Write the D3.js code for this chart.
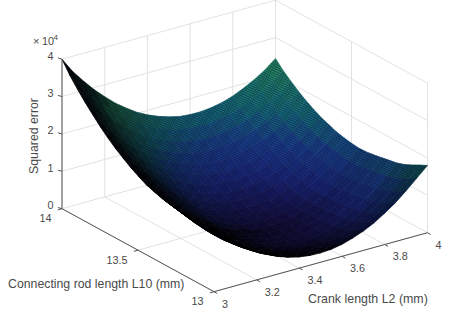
<!DOCTYPE html>
<html><head><meta charset="utf-8">
<script src="https://cdnjs.cloudflare.com/ajax/libs/d3/7.8.5/d3.min.js"></script>
<style>html,body{margin:0;padding:0;background:#fff}svg{display:block}text{font-family:"Liberation Sans",Arial,sans-serif;fill:#4a4a4a}</style>
</head><body><svg id="c" width="458" height="323"></svg>
<script>
const crankLength=[3,3.05,3.1,3.15,3.2,3.25,3.3,3.35,3.4,3.45,3.5,3.55,3.6,3.65,3.7,3.75,3.8,3.85,3.9,3.95,4];
const rodLength=[14,13.95,13.9,13.85,13.8,13.75,13.7,13.65,13.6,13.55,13.5,13.45,13.4,13.35,13.3,13.25,13.2,13.15,13.1,13.05,13];
// Squared error (x 10^4), one row per rod length
const squaredError=[
[4.00,3.59,3.26,2.95,2.68,2.43,2.22,2.03,1.88,1.76,1.67,1.60,1.57,1.57,1.60,1.66,1.75,1.88,2.03,2.21,2.44],
[3.69,3.32,2.99,2.69,2.42,2.18,1.97,1.79,1.64,1.52,1.43,1.38,1.35,1.35,1.39,1.45,1.55,1.67,1.83,2.02,2.23],
[3.43,3.07,2.74,2.44,2.18,1.94,1.74,1.56,1.42,1.30,1.22,1.17,1.14,1.15,1.19,1.26,1.36,1.49,1.65,1.84,2.06],
[3.19,2.84,2.52,2.22,1.96,1.73,1.52,1.35,1.21,1.10,1.02,.97,.95,.97,1.01,1.08,1.18,1.32,1.48,1.68,1.90],
[2.97,2.62,2.30,2.01,1.75,1.52,1.33,1.16,1.02,.92,.84,.80,.78,.80,.84,.92,1.03,1.16,1.33,1.53,1.76],
[2.76,2.42,2.10,1.82,1.56,1.34,1.14,.98,.85,.75,.67,.63,.62,.64,.69,.78,.89,1.03,1.20,1.41,1.64],
[2.57,2.23,1.92,1.64,1.39,1.17,.98,.82,.69,.59,.53,.49,.48,.51,.56,.65,.76,.91,1.09,1.30,1.53],
[2.40,2.06,1.75,1.48,1.23,1.02,.83,.68,.55,.46,.40,.37,.36,.39,.45,.54,.66,.81,.99,1.20,1.45],
[2.25,1.91,1.61,1.34,1.10,.88,.70,.55,.43,.34,.28,.26,.26,.29,.35,.45,.57,.72,.91,1.12,1.37],
[2.11,1.78,1.48,1.21,.98,.77,.59,.44,.33,.24,.19,.16,.17,.21,.27,.37,.50,.66,.85,1.07,1.32],
[1.99,1.66,1.37,1.10,.87,.67,.49,.35,.24,.16,.11,.09,.10,.14,.21,.31,.45,.61,.80,1.03,1.28],
[1.88,1.56,1.27,1.01,.78,.58,.41,.28,.17,.09,.05,.03,.05,.09,.17,.27,.41,.58,.77,1.00,1.26],
[1.81,1.49,1.20,.95,.72,.53,.36,.23,.13,.05,.01,.00,.02,.07,.15,.26,.40,.57,.77,1.01,1.27],
[1.77,1.45,1.17,.92,.70,.51,.35,.22,.12,.05,.01,.00,.02,.08,.16,.27,.42,.59,.80,1.04,1.30],
[1.72,1.41,1.13,.89,.67,.48,.33,.20,.11,.04,.01,.00,.03,.09,.17,.29,.44,.62,.83,1.07,1.34],
[1.68,1.37,1.10,.85,.64,.46,.31,.19,.09,.03,.00,.00,.04,.10,.19,.31,.47,.65,.86,1.11,1.38],
[1.63,1.33,1.06,.82,.61,.43,.29,.17,.08,.03,.00,.01,.04,.11,.20,.33,.49,.68,.89,1.14,1.42],
[1.62,1.32,1.05,.82,.62,.44,.30,.19,.10,.05,.03,.04,.08,.15,.25,.38,.54,.73,.96,1.21,1.49],
[1.64,1.34,1.08,.85,.65,.48,.34,.23,.15,.10,.09,.10,.14,.22,.32,.46,.62,.82,1.04,1.30,1.59],
[1.67,1.38,1.12,.89,.70,.53,.40,.29,.22,.17,.16,.18,.22,.30,.41,.55,.72,.92,1.15,1.41,1.70],
[1.72,1.43,1.18,.96,.76,.60,.47,.37,.30,.26,.25,.27,.32,.41,.52,.66,.84,1.04,1.28,1.54,1.80]];
const crankTicks=[3,3.2,3.4,3.6,3.8,4];
const rodTicks=[14,13.5,13];
const errorTicks=[0,1,2,3,4];
const colourStops=[0,.5,1,1.5,2.44,3,4];
const colourValues=["#2a2090","#3048e8","#2c6cf8","#22b0d0","#3ce098","#207060","#103030"];

const svg=d3.select("#c");
const ox=62, oy=208.7;
const xCrank=d3.scaleLinear().domain([3,4]).range([0,213.5]);
const yCrank=d3.scaleLinear().domain([3,4]).range([0,-59]);
const xRod=d3.scaleLinear().domain([14,13]).range([0,152]);
const yRod=d3.scaleLinear().domain([14,13]).range([0,83]);
const hErr=d3.scaleLinear().domain([0,4]).range([0,149.5]);
const P=(c,r,z)=>[ox+xCrank(c)+xRod(r), oy+yCrank(c)+yRod(r)-hErr(z)];
const line=d3.line();
const gridCol="#e2e2e2";
const seg=(a,b,col,w)=>svg.append("path").attr("d",line([a,b])).attr("stroke",col).attr("stroke-width",w).attr("fill","none");

errorTicks.slice(1).forEach(z=>{seg(P(3,14,z),P(4,14,z),gridCol,1);seg(P(4,14,z),P(4,13,z),gridCol,1);});
crankTicks.forEach(c=>{seg(P(c,14,0),P(c,14,4),gridCol,1);seg(P(c,14,0),P(c,13,0),gridCol,1);});
rodTicks.forEach(r=>{seg(P(4,r,0),P(4,r,4),gridCol,1);seg(P(3,r,0),P(4,r,0),gridCol,1);});

// surface: the source's fine edge lines are a texture; their coverage darkens each facet
const meshPerFacet=3.5, lineWidth=.82;
const defs=svg.append("defs");
const dc=[xCrank(3.0143)-xCrank(3),yCrank(3.0143)-yCrank(3)];
const dr=[xRod(13.9857)-xRod(14),yRod(13.9857)-yRod(14)];
const pat=defs.append("pattern").attr("id","mesh").attr("patternUnits","userSpaceOnUse").attr("width",10).attr("height",10)
 .attr("patternTransform",`matrix(${dc[0]/10} ${dc[1]/10} ${dr[0]/10} ${dr[1]/10} ${ox} ${oy})`);
pat.append("path").attr("d","M0 0H10M0 0V10").attr("stroke","#05050c").attr("stroke-width",5).attr("fill","none");

const colour=d3.scaleLinear().domain(colourStops).range(colourValues);
const surface=svg.append("g");
let whole="";
for(let i=0;i<rodLength.length-1;i++){
 for(let j=crankLength.length-2;j>=0;j--){
  const q=[[j,i],[j+1,i],[j+1,i+1],[j,i+1]];
  const poly=q.map(([a,b])=>P(crankLength[a],rodLength[b],squaredError[b][a]));
  const mean=d3.mean(q,([a,b])=>squaredError[b][a]);
  const a=[(poly[1][0]-poly[0][0]+poly[2][0]-poly[3][0])/2/meshPerFacet,(poly[1][1]-poly[0][1]+poly[2][1]-poly[3][1])/2/meshPerFacet];
  const b=[(poly[3][0]-poly[0][0]+poly[2][0]-poly[1][0])/2/meshPerFacet,(poly[3][1]-poly[0][1]+poly[2][1]-poly[1][1])/2/meshPerFacet];
  const area=Math.abs(a[0]*b[1]-a[1]*b[0]);
  const s1=area/Math.hypot(...b), s2=area/Math.hypot(...a);
  const open=Math.max(0,1-lineWidth/s1)*Math.max(0,1-lineWidth/s2);
  const shade=d3.interpolateRgb("#000004",colour(mean))(Math.pow(open,1.1));
  const d=line(poly)+"Z";
  whole+=d;
  surface.append("path").attr("d",d).attr("fill",shade).attr("stroke",shade).attr("stroke-width",.7);
 }
}
// one path, so facet borders do not show through the texture
const clip=defs.append("clipPath").attr("id","surfaceClip");
clip.append("path").attr("d",whole);
svg.append("rect").attr("width",458).attr("height",323).attr("clip-path","url(#surfaceClip)").attr("fill","url(#mesh)").attr("opacity",.4);

const axisCol="#555";
seg(P(3,14,0),P(3,14,4),axisCol,1);
seg(P(3,14,0),P(3,13,0),axisCol,1);
seg(P(3,13,0),P(4,13,0),axisCol,1);
const text=(x,y,s,anchor,size)=>svg.append("text").attr("x",x).attr("y",y).attr("text-anchor",anchor).attr("font-size",size).attr("dominant-baseline","middle").text(s);
errorTicks.forEach(z=>{const p=P(3,14,z);seg(p,[p[0]-4,p[1]-1.2],axisCol,1);text(p[0]-8.5,p[1]-2.5,String(z),"end",10.8);});
rodTicks.forEach(r=>{const p=P(3,r,0);seg(p,[p[0]-4.2,p[1]+1.2],axisCol,1);text(p[0]-10.5,p[1]+10.5,String(r),"end",10.8);});
crankTicks.forEach(c=>{const p=P(c,13,0);seg(p,[p[0]+3.2,p[1]+1.8],axisCol,1);text(p[0]+8,p[1]+13,String(c),"start",10.8);});

text(8,285,"Connecting rod length L10 (mm)","start",12.3);
text(308,300,"Crank length L2 (mm)","start",12.4);
svg.append("text").attr("transform","translate(35,136) rotate(-90)").attr("text-anchor","middle").attr("dominant-baseline","middle").attr("font-size",12.3).text("Squared error");
text(33,42.5,"×","start",11);
text(42,42.5,"10","start",10.8);
text(53.5,38,"4","start",8);
</script></body></html>
